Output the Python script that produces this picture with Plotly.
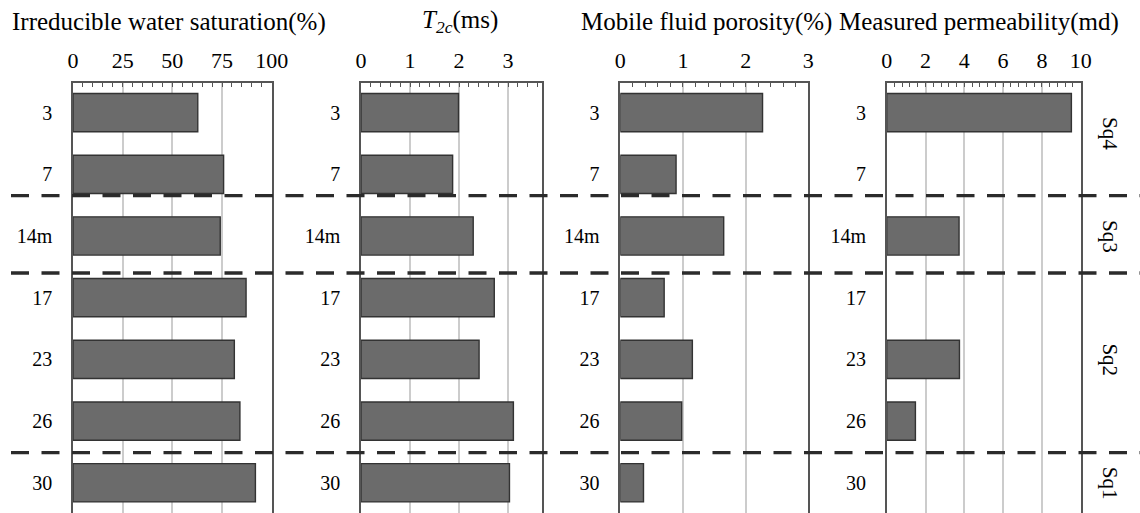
import plotly.graph_objects as go

# Sample depths (rows, top to bottom)
samples = ["3", "7", "14m", "17", "23", "26", "30"]

# Measured quantities per sample
irreducible_sw = [62.8, 75.8, 74.1, 87.1, 81.2, 84.0, 91.8]          # %
t2c = [1.99, 1.87, 2.29, 2.72, 2.41, 3.11, 3.03]                      # ms
mobile_porosity = [2.27, 0.89, 1.65, 0.70, 1.15, 0.98, 0.37]          # %
permeability = [9.52, None, 3.73, None, 3.75, 1.48, None]             # md

# Panel titles and axis ranges
titles = ["Irreducible water saturation(%)", "<i>T</i><sub><i>2c</i></sub>(ms)",
          "Mobile fluid porosity(%)", "Measured permeability(md)"]
x_ranges = [[0, 100], [0, 3.7], [0, 3], [0, 10]]
x_dticks = [25, 1, 1, 2]
x_minor = [5, 0.2, 0.2, 0.4]

# Sequence zones: label and its vertical centre in row units; boundaries in row units
sequences = [("Sq4", 0.33), ("Sq3", 2.0), ("Sq2", 4.0), ("Sq1", 6.0)]
boundaries = [1.346, 2.60, 5.51]

W, H = 1140, 513
TOP = 83
Y_RANGE = [6.49, -0.48]
domains_px = [(73, 271.7), (361, 542.3), (620.3, 808.3), (886.7, 1080.7)]
title_cx = [169, 460, 706, 979]

FONT = "Liberation Serif"
BAR_FILL = "#6b6b6b"
BAR_EDGE = "#333333"
AXIS_COL = "#555555"
GRID_COL = "#cccccc"

series = [irreducible_sw, t2c, mobile_porosity, permeability]

fig = go.Figure()
for i, vals in enumerate(series):
    sfx = "" if i == 0 else str(i + 1)
    fig.add_trace(go.Bar(
        x=vals, y=samples, orientation="h", width=0.62,
        marker=dict(color=BAR_FILL, line=dict(color=BAR_EDGE, width=1.4)),
        xaxis="x" + sfx, yaxis="y" + sfx, showlegend=False, hoverinfo="x+y",
    ))
    d0, d1 = domains_px[i]
    fig.layout["xaxis" + sfx] = dict(
        domain=[d0 / W, d1 / W], range=x_ranges[i], anchor="y" + sfx,
        side="top", dtick=x_dticks[i], tick0=0,
        showgrid=True, gridcolor=GRID_COL, gridwidth=1.5, zeroline=False,
        showline=True, linecolor=AXIS_COL, linewidth=1.5,
        ticks="inside", ticklen=4, tickcolor=AXIS_COL, tickwidth=1,
        minor=dict(dtick=x_minor[i], tick0=0, ticks="inside", ticklen=4,
                   tickcolor=AXIS_COL, tickwidth=1, showgrid=False),
        ticklabelstandoff=4,
        tickfont=dict(family=FONT, size=22, color="black"),
        automargin=False, fixedrange=True,
    )
    fig.layout["yaxis" + sfx] = dict(
        domain=[0, 1], anchor="x" + sfx, type="category",
        categoryorder="array", categoryarray=samples, range=Y_RANGE,
        showgrid=False, zeroline=False,
        showline=True, mirror=True, linecolor=AXIS_COL, linewidth=1.5,
        ticks="", ticklabelstandoff=15,
        tickfont=dict(family=FONT, size=20, color="black"),
        automargin=False, fixedrange=True,
    )
    fig.add_annotation(
        text=titles[i], x=title_cx[i] / W, xref="paper", xanchor="center",
        y=(H - 22) / (H - TOP), yref="paper", yanchor="middle",
        showarrow=False, font=dict(family=FONT, size=25, color="black"),
    )


def row_to_paper(u):
    # map a row coordinate on the reversed category axis to paper y
    frac = (u - Y_RANGE[1]) / (Y_RANGE[0] - Y_RANGE[1])
    return 1 - frac


for b in boundaries:
    yp = row_to_paper(b)
    fig.add_shape(type="line", xref="paper", yref="paper",
                  x0=11 / W, x1=1.0, y0=yp, y1=yp, layer="above",
                  line=dict(color="#2b2b2b", width=3.3, dash="18px,12.5px"))

for name, centre in sequences:
    fig.add_annotation(
        text=name, x=1110 / W, xref="paper", xanchor="center",
        y=row_to_paper(centre), yref="paper", yanchor="middle",
        textangle=90, showarrow=False,
        font=dict(family=FONT, size=21, color="black"),
    )

fig.update_layout(
    width=W, height=H,
    margin=dict(l=0, r=0, t=TOP, b=0, autoexpand=False),
    paper_bgcolor="white", plot_bgcolor="white",
    bargap=0.38,
)

fig.write_html("out.html")
